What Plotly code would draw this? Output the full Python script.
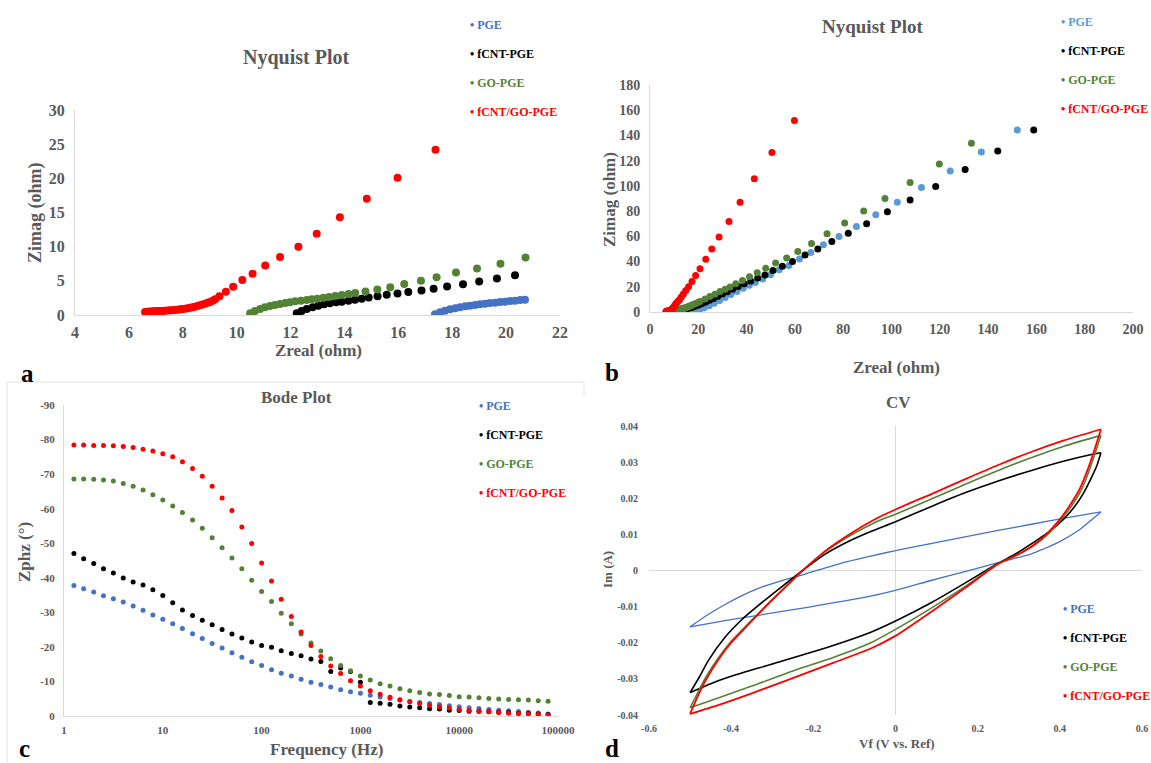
import plotly.graph_objects as go

# ---------------- DATA ----------------
series_names = ["PGE", "fCNT-PGE", "GO-PGE", "fCNT/GO-PGE"]

# Nyquist, panel a (high-frequency region)
nyqA_pge_zre = [17.36, 17.55, 17.73, 17.92, 18.11, 18.29, 18.48, 18.66, 18.85, 19.03, 19.22, 19.40, 19.59, 19.78, 19.96, 20.15, 20.33, 20.52, 20.70]
nyqA_pge_zim = [0.10, 0.39, 0.63, 0.83, 0.98, 1.12, 1.27, 1.37, 1.46, 1.56, 1.66, 1.76, 1.80, 1.90, 1.95, 2.05, 2.10, 2.20, 2.24]
nyqA_fcnt_zre = [12.23, 12.41, 12.60, 12.82, 13.03, 13.24, 13.46, 13.69, 13.90, 14.15, 14.39, 14.64, 14.90, 15.23, 15.57, 15.97, 16.37, 16.86, 17.31, 17.81, 18.40, 19.00, 19.66, 20.33]
nyqA_fcnt_zim = [0.25, 0.59, 0.88, 1.12, 1.37, 1.56, 1.71, 1.85, 1.95, 2.10, 2.24, 2.39, 2.55, 2.75, 2.95, 3.15, 3.38, 3.60, 3.85, 4.16, 4.50, 4.90, 5.34, 5.82]
nyqA_go_zre = [10.50, 10.68, 10.87, 11.05, 11.24, 11.42, 11.61, 11.80, 11.98, 12.17, 12.38, 12.60, 12.79, 12.99, 13.22, 13.43, 13.66, 13.90, 14.15, 14.40, 14.78, 15.22, 15.70, 16.22, 16.84, 17.42, 18.14, 18.92, 19.79, 20.72]
nyqA_go_zim = [0.25, 0.59, 0.88, 1.12, 1.32, 1.46, 1.61, 1.76, 1.85, 2.00, 2.10, 2.20, 2.29, 2.39, 2.54, 2.63, 2.78, 2.93, 3.07, 3.22, 3.45, 3.72, 4.06, 4.55, 5.00, 5.53, 6.22, 6.80, 7.49, 8.42]
nyqA_fgo_zre = [6.60, 6.69, 6.78, 6.88, 6.97, 7.07, 7.16, 7.25, 7.34, 7.44, 7.53, 7.62, 7.71, 7.81, 7.90, 7.99, 8.08, 8.18, 8.27, 8.36, 8.45, 8.55, 8.64, 8.74, 8.83, 8.92, 9.01, 9.11, 9.20, 9.36, 9.60, 9.87, 10.21, 10.59, 11.06, 11.61, 12.29, 12.97, 13.83, 14.83, 15.97, 17.38]
nyqA_fgo_zim = [0.45, 0.48, 0.52, 0.55, 0.57, 0.58, 0.59, 0.60, 0.62, 0.65, 0.68, 0.70, 0.74, 0.78, 0.83, 0.88, 0.93, 1.00, 1.07, 1.14, 1.22, 1.31, 1.41, 1.53, 1.66, 1.78, 1.92, 2.10, 2.30, 2.75, 3.40, 4.15, 5.13, 6.05, 7.24, 8.47, 10.00, 11.90, 14.30, 17.00, 20.07, 24.20]

# Nyquist, extra low-frequency points shown only in panel b
nyqB_pge_zre = [22.5, 24.5, 26.6, 28.8, 31.1, 33.5, 36.0, 38.6, 41.1, 43.6, 46.7, 49.9, 53.5, 57.5, 61.9, 66.6, 71.8, 78.3, 85.5, 93.5, 102.4, 112.4, 124.3, 137.2, 152.1]
nyqB_pge_zim = [3.3, 5.0, 7.0, 9.1, 11.4, 13.8, 16.3, 18.9, 21.2, 23.4, 26.1, 29.6, 33.5, 36.9, 42.0, 47.2, 53.3, 59.9, 67.8, 77.1, 87.1, 98.7, 111.9, 126.9, 144.4]
nyqB_fcnt_zre = [21.5, 23.0, 24.6, 26.3, 28.1, 30.0, 32.0, 34.2, 36.5, 39.0, 41.7, 44.6, 47.6, 50.9, 54.8, 59.0, 64.2, 69.5, 75.3, 82.1, 89.7, 98.3, 107.7, 118.3, 130.5, 144.0, 158.9]
nyqB_fcnt_zim = [6.8, 8.0, 9.3, 10.8, 12.4, 14.2, 16.1, 18.1, 20.2, 22.4, 24.6, 26.9, 29.3, 33.0, 36.2, 40.1, 45.1, 49.9, 56.0, 62.5, 69.9, 79.4, 88.9, 99.5, 113.0, 127.7, 144.4]
nyqB_go_zre = [22.8, 24.8, 26.9, 29.0, 31.1, 33.1, 35.5, 38.3, 41.2, 44.4, 47.9, 52.0, 56.6, 61.2, 66.9, 73.3, 80.6, 88.5, 97.3, 107.7, 119.8, 133.1]
nyqB_go_zim = [10.3, 12.2, 14.1, 16.2, 18.1, 19.9, 22.4, 25.0, 28.0, 31.2, 34.6, 38.8, 42.9, 48.0, 54.4, 62.0, 70.5, 80.0, 90.0, 102.7, 117.4, 133.8]
nyqB_fgo_zre = [18.9, 20.7, 23.1, 25.6, 28.6, 32.7, 37.3, 43.2, 50.5, 59.8]
nyqB_fgo_zim = [29.0, 34.2, 41.8, 49.9, 59.4, 71.8, 87.1, 105.6, 126.4, 151.8]

# Bode phase
bode_freq = [1.26, 1.58, 2.0, 2.51, 3.16, 3.98, 5.01, 6.31, 7.94, 10, 12.6, 15.8, 20, 25.1, 31.6, 39.8, 50.1, 63.1, 79.4, 100,
             126, 158, 200, 251, 316, 398, 501, 631, 794, 1000, 1259, 1585, 1995, 2512, 3162, 3981, 5012, 6310, 7943, 10000,
             12589, 15849, 19953, 25119, 31623, 39811, 50119, 63096, 79433]
bode_pge = [-37.8, -36.8, -35.9, -34.8, -33.9, -33.0, -31.8, -30.6, -29.2, -28.0, -26.7, -25.3, -23.8, -22.4, -21.0, -19.7, -18.3, -17.0, -15.7, -14.6,
            -13.4, -12.4, -11.6, -10.6, -9.8, -9.1, -8.4, -7.6, -7.0, -6.6, -6.0, -5.5, -5.1, -4.6, -4.2, -3.9, -3.6, -3.3, -3.0, -2.7,
            -2.4, -2.2, -1.9, -1.7, -1.5, -1.3, -1.1, -0.9, -0.6]
bode_fcnt = [-47.0, -45.5, -44.1, -42.6, -41.4, -39.9, -38.8, -37.9, -36.5, -34.9, -32.8, -30.7, -29.1, -27.7, -26.4, -25.0, -23.7, -22.6, -21.4, -20.4,
             -19.9, -18.9, -18.1, -17.4, -16.5, -15.8, -12.9, -13.9, -12.9, -9.8, -3.9, -3.7, -3.4, -2.9, -2.6, -2.4, -2.1, -2.0, -1.7, -1.6,
             -1.4, -1.35, -1.2, -1.1, -1.0, -0.8, -0.7, -0.6, -0.4]
bode_go = [-68.6, -68.6, -68.5, -68.3, -68.0, -67.3, -66.5, -65.4, -64.0, -62.5, -60.8, -58.9, -56.7, -54.3, -51.6, -48.7, -45.7, -42.6, -39.3, -36.0,
           -33.1, -29.7, -26.7, -23.7, -21.1, -18.8, -16.6, -14.6, -13.1, -11.6, -10.4, -9.3, -8.7, -7.9, -7.3, -6.8, -6.4, -6.2, -5.9, -5.6,
           -5.5, -5.3, -5.1, -4.9, -4.8, -4.7, -4.6, -4.4, -4.3]
bode_fgo = [-78.4, -78.4, -78.3, -78.3, -78.2, -78.0, -77.7, -77.2, -76.7, -75.9, -75.0, -73.6, -71.6, -69.4, -66.5, -63.1, -59.5, -54.7, -49.9, -44.3,
            -39.1, -33.8, -28.8, -24.3, -20.4, -17.2, -14.5, -12.3, -10.2, -8.7, -7.3, -6.3, -5.4, -4.7, -4.1, -3.6, -3.1, -2.7, -2.3, -1.9,
            -1.6, -1.4, -1.2, -1.0, -0.8, -0.7, -0.6, -0.4, -0.3]

# CV loops: upper (forward) branch and lower (reverse) branch
cv_pge_up_v = [-0.5, -0.456, -0.415, -0.375, -0.335, -0.294, -0.226, -0.133, -0.06, 0.0, 0.089, 0.169, 0.25, 0.331, 0.411, 0.5]
cv_pge_up_i = [-0.0156, -0.0122, -0.0094, -0.0070, -0.0050, -0.0034, -0.0012, 0.0020, 0.0040, 0.0055, 0.0075, 0.0093, 0.0111, 0.0128, 0.0145, 0.0162]
cv_pge_dn_v = [0.5, 0.444, 0.395, 0.359, 0.331, 0.25, 0.169, 0.089, 0.0, -0.073, -0.214, -0.335, -0.415, -0.5]
cv_pge_dn_i = [0.0162, 0.0110, 0.0077, 0.0059, 0.0046, 0.0022, -0.0003, -0.0027, -0.0055, -0.0074, -0.0102, -0.0124, -0.0139, -0.0156]

cv_fcnt_up_v = [-0.5, -0.476, -0.456, -0.415, -0.375, -0.335, -0.278, -0.226, -0.173, -0.11, -0.06, 0.0, 0.089, 0.169, 0.25, 0.331, 0.411, 0.477, 0.5]
cv_fcnt_up_i = [-0.0338, -0.0292, -0.0250, -0.0185, -0.0137, -0.0098, -0.0046, 0.0, 0.0044, 0.0083, 0.0108, 0.0135, 0.0178, 0.0215, 0.0248, 0.0277, 0.0303, 0.0321, 0.0326]
cv_fcnt_dn_v = [0.5, 0.49, 0.476, 0.458, 0.436, 0.41, 0.375, 0.335, 0.294, 0.25, 0.169, 0.089, 0.0, -0.06, -0.15, -0.294, -0.40, -0.456, -0.5]
cv_fcnt_dn_i = [0.0326, 0.0290, 0.0255, 0.0215, 0.0177, 0.0143, 0.0108, 0.0077, 0.0047, 0.0020, -0.0035, -0.0088, -0.0140, -0.0171, -0.0207, -0.0257, -0.0293, -0.0316, -0.0338]

cv_go_up_v = [-0.5, -0.48, -0.46, -0.43, -0.40, -0.36, -0.32, -0.27, -0.226, -0.17, -0.11, -0.05, 0.0, 0.09, 0.17, 0.25, 0.33, 0.41, 0.5]
cv_go_up_i = [-0.0380, -0.0335, -0.0292, -0.0240, -0.0196, -0.0149, -0.0103, -0.0048, 0.0, 0.0053, 0.0097, 0.0133, 0.0156, 0.0199, 0.0239, 0.0277, 0.0312, 0.0344, 0.0374]
cv_go_dn_v = [0.5, 0.486, 0.471, 0.452, 0.427, 0.402, 0.37, 0.337, 0.295, 0.25, 0.17, 0.09, 0.0, -0.06, -0.15, -0.25, -0.35, -0.43, -0.5]
cv_go_dn_i = [0.0374, 0.0325, 0.0275, 0.0222, 0.0176, 0.0139, 0.0099, 0.0069, 0.0042, 0.0019, -0.0044, -0.0102, -0.0163, -0.0200, -0.0240, -0.0278, -0.0320, -0.0352, -0.0380]

cv_fgo_up_v = [-0.5, -0.48, -0.46, -0.43, -0.40, -0.36, -0.32, -0.27, -0.226, -0.17, -0.11, -0.05, 0.0, 0.09, 0.17, 0.25, 0.33, 0.41, 0.5]
cv_fgo_up_i = [-0.0397, -0.0345, -0.0300, -0.0245, -0.0200, -0.0152, -0.0104, -0.0048, 0.0, 0.0055, 0.0102, 0.0142, 0.0169, 0.0213, 0.0253, 0.0292, 0.0328, 0.0360, 0.0391]
cv_fgo_dn_v = [0.5, 0.484, 0.468, 0.448, 0.423, 0.399, 0.367, 0.335, 0.294, 0.25, 0.17, 0.09, 0.0, -0.06, -0.15, -0.25, -0.35, -0.43, -0.5]
cv_fgo_dn_i = [0.0391, 0.0333, 0.0280, 0.0225, 0.0178, 0.0140, 0.0100, 0.0070, 0.0042, 0.0018, -0.0048, -0.0112, -0.0181, -0.0216, -0.0255, -0.0298, -0.0340, -0.0372, -0.0397]

# tick labels
bode_xtick_vals = [1, 10, 100, 1000, 10000, 100000]
bode_xtick_text = ["1", "10", "100", "1000", "10000", "100000"]
bode_ytick_vals = [0, -10, -20, -30, -40, -50, -60, -70, -80, -90]
bode_ytick_text = ["0", "-10", "-20", "-30", "-40", "-50", "-60", "-70", "-80", "-90"]
cv_xtick_vals = [-0.6, -0.4, -0.2, 0, 0.2, 0.4, 0.6]
cv_xtick_text = ["-0.6", "-0.4", "-0.2", "0", "0.2", "0.4", "0.6"]
cv_ytick_vals = [-0.04, -0.03, -0.02, -0.01, 0, 0.01, 0.02, 0.03, 0.04]
cv_ytick_text = ["-0.04", "-0.03", "-0.02", "-0.01", "0", "0.01", "0.02", "0.03", "0.04"]

# ---------------- STYLE ----------------
W, H = 1151, 763
FONT = "Liberation Serif, Times New Roman, serif"
GRAY = "#595959"
AXC = "#D9D9D9"
COL_A = ["#4472C4", "#000000", "#548235", "#FF0000"]
COL_B = ["#5B9BD5", "#000000", "#548235", "#FF0000"]


def clamp(v):
    return min(1.0, max(0.0, v))


def fx(p):
    return p / W


def fy(p):
    return 1 - p / H


def dom_x(a, b):
    return [clamp(fx(a)), clamp(fx(b))]


def dom_y(bottom, top):
    return [clamp(fy(bottom)), clamp(fy(top))]


fig = go.Figure()


def markers(x, y, color, size, xa, ya):
    fig.add_trace(go.Scatter(x=x, y=y, mode="markers", xaxis=xa, yaxis=ya,
                             marker=dict(color=color, size=size, line=dict(width=0)),
                             showlegend=False, hoverinfo="skip"))


def line(x, y, color, width, xa, ya):
    fig.add_trace(go.Scatter(x=x, y=y, mode="lines", xaxis=xa, yaxis=ya,
                             line=dict(color=color, width=width, shape="spline", smoothing=0.7),
                             showlegend=False, hoverinfo="skip"))


def legend_entries(lg, colors, xa, ya):
    # the coloured bullet is part of the label so it sits close to the text, as in the original
    for i, (n, c) in enumerate(zip(series_names, colors)):
        fig.add_trace(go.Scatter(x=[None], y=[None], mode="lines", xaxis=xa, yaxis=ya,
                                 line=dict(color="rgba(0,0,0,0)", width=0),
                                 name=f"<span style='color:{c}'><b>\u2022 {n}</b></span>",
                                 legend=lg, legendgroup=f"{lg}{i}", showlegend=True))


# panel a
nyqA = [(nyqA_pge_zre, nyqA_pge_zim), (nyqA_fcnt_zre, nyqA_fcnt_zim), (nyqA_go_zre, nyqA_go_zim), (nyqA_fgo_zre, nyqA_fgo_zim)]
for (x, y), c in zip(nyqA, COL_A):
    markers(x, y, c, 8, "x", "y")
legend_entries("legend", COL_A, "x", "y")

# panel b
nyqB = [(nyqB_pge_zre, nyqB_pge_zim), (nyqB_fcnt_zre, nyqB_fcnt_zim), (nyqB_go_zre, nyqB_go_zim), (nyqB_fgo_zre, nyqB_fgo_zim)]
for (xa_, ya_), (xb_, yb_), c in zip(nyqA, nyqB, COL_B):
    markers(xa_ + xb_, ya_ + yb_, c, 7, "x2", "y2")
legend_entries("legend2", COL_B, "x2", "y2")

# panel c
for ys, c in zip([bode_pge, bode_fcnt, bode_go, bode_fgo], COL_A):
    markers(bode_freq, ys, c, 5, "x3", "y3")
legend_entries("legend3", COL_A, "x3", "y3")

# panel d
cv = [(cv_pge_up_v, cv_pge_up_i, cv_pge_dn_v, cv_pge_dn_i, 1.3),
      (cv_fcnt_up_v, cv_fcnt_up_i, cv_fcnt_dn_v, cv_fcnt_dn_i, 1.6),
      (cv_go_up_v, cv_go_up_i, cv_go_dn_v, cv_go_dn_i, 1.6),
      (cv_fgo_up_v, cv_fgo_up_i, cv_fgo_dn_v, cv_fgo_dn_i, 1.8)]
for (uv, ui, dv, di, w), c in zip(cv, COL_A):
    line(uv, ui, c, w, "x4", "y4")
    line(dv, di, c, w, "x4", "y4")
legend_entries("legend4", COL_A, "x4", "y4")


def tfont(size):
    return dict(family=FONT, size=size, color=GRAY, weight="bold")


common = dict(showgrid=False, ticks="", zeroline=False, showline=True, linecolor=AXC, linewidth=1,
              automargin=False, ticklabeloverflow="allow")

fig.update_layout(
    width=W, height=H, autosize=False,
    margin=dict(l=0, r=0, t=0, b=0, pad=0, autoexpand=False),
    paper_bgcolor="white", plot_bgcolor="white",
    xaxis=dict(domain=dom_x(75, 560), range=[4, 22], dtick=2, anchor="y", tickfont=tfont(16), ticklabelstandoff=3, **common),
    yaxis=dict(domain=dom_y(315, 110), range=[0, 30], dtick=5, anchor="x", tickfont=tfont(16), ticklabelstandoff=6, **common),
    xaxis2=dict(domain=dom_x(650, 1133), range=[0, 200], dtick=20, anchor="y2", tickfont=tfont(14), ticklabelstandoff=4, **common),
    yaxis2=dict(domain=dom_y(312, 85), range=[0, 180], dtick=20, anchor="x2", tickfont=tfont(14), ticklabelstandoff=6, **common),
    xaxis3=dict(domain=dom_x(64, 558), type="log", range=[0, 5], tickvals=bode_xtick_vals, ticktext=bode_xtick_text,
                anchor="y3", tickfont=tfont(11), ticklabelstandoff=4, **common),
    yaxis3=dict(domain=dom_y(716, 405), range=[0, -90], tickvals=bode_ytick_vals, ticktext=bode_ytick_text,
                anchor="x3", tickfont=tfont(11), ticklabelstandoff=6, **common),
    xaxis4=dict(domain=dom_x(649, 1142), range=[-0.6, 0.6], tickvals=cv_xtick_vals, ticktext=cv_xtick_text,
                anchor="y4", tickfont=tfont(10), ticklabelstandoff=6, showgrid=False, ticks="", showline=False,
                zeroline=True, zerolinecolor=AXC, zerolinewidth=1, automargin=False, ticklabeloverflow="allow"),
    yaxis4=dict(domain=dom_y(715, 426), range=[-0.04, 0.04], tickvals=cv_ytick_vals, ticktext=cv_ytick_text,
                anchor="x4", tickfont=tfont(10), ticklabelstandoff=10, showgrid=False, ticks="", showline=False,
                zeroline=True, zerolinecolor=AXC, zerolinewidth=1, automargin=False, ticklabeloverflow="allow"),
)

leg_common = dict(xanchor="left", yanchor="top", bgcolor="rgba(0,0,0,0)", itemwidth=30,
                  tracegroupgap=10, font=dict(family=FONT, size=12))
fig.update_layout(
    legend=dict(x=fx(430), y=fy(10), **leg_common),
    legend2=dict(x=fx(1021), y=fy(7), **leg_common),
    legend3=dict(x=fx(439), y=fy(391), **leg_common),
    legend4=dict(x=fx(1023), y=fy(594), **leg_common),
)


def ann(text, x, y, size, color=GRAY, angle=0):
    fig.add_annotation(text=text, x=fx(x), y=fy(y), xref="paper", yref="paper", showarrow=False,
                       xanchor="center", yanchor="middle", textangle=angle,
                       font=dict(family=FONT, size=size, color=color, weight="bold"))


# titles
ann("Nyquist Plot", 296, 57, 20)
ann("Nyquist Plot", 872, 27, 19)
ann("Bode Plot", 296, 398, 17)
ann("CV", 898, 403, 17)
# axis titles
ann("Zreal (ohm)", 318, 350, 17)
ann("Zimag (ohm)", 36, 213, 18, angle=-90)
ann("Zreal (ohm)", 896, 367, 17)
ann("Zimag (ohm)", 609, 200, 17, angle=-90)
ann("Frequency (Hz)", 326, 749, 17)
ann("Zphz (°)", 24, 552, 17, angle=-90)
ann("Vf (V vs. Ref)", 897, 743, 13)
ann("Im (A)", 607, 570, 13, angle=-90)
# panel letters
ann("a", 27, 373, 25, color="black")
ann("b", 612, 372, 25, color="black")
ann("c", 24, 748, 25, color="black")
ann("d", 612, 748, 25, color="black")

# light frame around panel c
for x0, y0, x1, y1 in [(7, 382, 584, 382), (7, 382, 7, 763), (584, 382, 584, 396)]:
    fig.add_shape(type="line", xref="paper", yref="paper", x0=clamp(fx(x0)), y0=clamp(fy(y0)),
                  x1=clamp(fx(x1)), y1=clamp(fy(y1)), line=dict(color="#E3E3E3", width=1))

fig.write_html("out.html", config={"responsive": False, "displayModeBar": False},
               post_script="document.body.style.margin='0';document.body.style.padding='0';"
                           "document.body.style.overflow='hidden';"
                           "document.documentElement.style.overflow='hidden';")
